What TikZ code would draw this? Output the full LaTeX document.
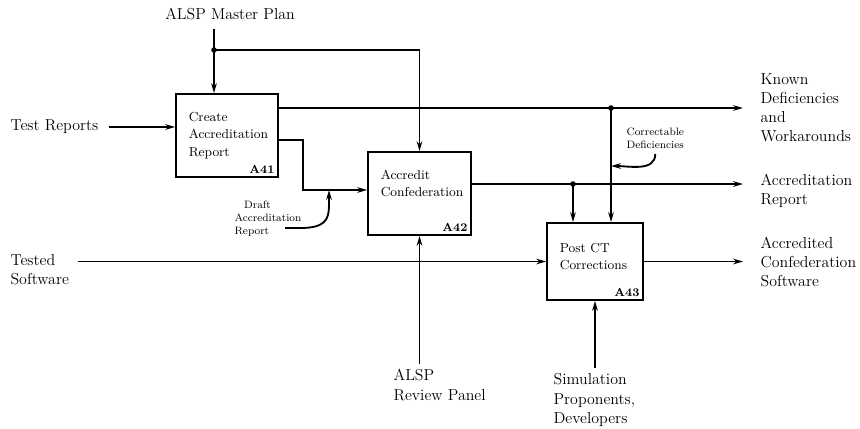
\documentclass[tikz,border=0pt]{standalone}
\usetikzlibrary{positioning,arrows.meta}
\begin{document}
\begin{tikzpicture}[x=0.025cm,y=-0.025cm,line width=1.3pt,
  arr/.style={-{Stealth[length=7pt,width=4pt]}},
  lbl/.style={font=\fontsize{11.3}{13.6}\selectfont,align=left},
  note/.style={font=\fontsize{7.6}{9.2}\selectfont,align=left},
  boxtxt/.style={font=\fontsize{9.3}{12.5}\selectfont,align=left,inner sep=0pt},
  boxnum/.style={font=\fontsize{8.3}{9}\selectfont\bfseries,anchor=south east,inner sep=2.5pt}]
\useasboundingbox (0,0) rectangle (860,428);
\node[draw,minimum width=2.55cm,minimum height=2.075cm] (a41) at (227,135.5) {};
\node[draw,minimum width=2.575cm,minimum height=2.075cm] (a42) at (419.5,193.5) {};
\node[draw,minimum width=2.4cm,minimum height=1.925cm] (a43) at (595,261.5) {};
\node[boxtxt,below right=0.45cm and 0.32cm of a41.north west] (a41t) {Create\\Accreditation\\Report};
\node[boxtxt,below right=0.45cm and 0.32cm of a42.north west] (a42t) {Accredit\\Confederation};
\node[boxtxt,below right=0.5cm and 0.32cm of a43.north west] (a43t) {Post CT\\Corrections};
\node[boxnum] (a41n) at (a41.south east) {A41};
\node[boxnum] (a42n) at (a42.south east) {A42};
\node[boxnum] (a43n) at (a43.south east) {A43};
\node[lbl] (mp) at (230,14) {ALSP Master Plan};
\node[lbl,anchor=west] (tr) at (5,127) {Test Reports};
\node[lbl,anchor=west] (ts) at (5,270) {Tested\\Software};
\node[lbl,anchor=west] (kd) at (755,107.5) {Known\\Deficiencies\\and\\Workarounds};
\node[lbl,anchor=west] (ar) at (755,191) {Accreditation\\Report};
\node[lbl,anchor=west] (acs) at (755,262) {Accredited\\Confederation\\Software};
\node[lbl,anchor=west] (rp) at (388,385) {ALSP\\Review Panel};
\node[lbl,anchor=west] (sp) at (548,400) {Simulation\\Proponents,\\Developers};
\node[note,anchor=west] (dft) at (229,219) {\hspace{0.9em}Draft\\Accreditation\\Report};
\node[note,anchor=west] (cd) at (621,138) {Correctable\\Deficiencies};
\coordinate (mpj) at (214,50);
\coordinate (kdj) at (611,108);
\coordinate (arj) at (573,184);
\coordinate (drb) at (303,140);
\coordinate (drc) at (303,190);
\coordinate (dftend) at (285,228);
\coordinate (drhit) at (329,190);
\coordinate (cdhit) at (611,166);
\draw[arr,shorten <=0.1cm] (mp.south -| mpj) -- (mpj |- a41.north);
\draw[arr] (mpj) -| (a42.north);
\draw[arr,shorten <=0.12cm] (tr.east) -- (tr.east -| a41.west);
\draw (a41.east |- kdj) -- (kdj);
\draw[arr,shorten >=0.3cm] (kdj) -- (kdj -| kd.west);
\draw[arr] (kdj) -- (kdj |- a43.north);
\draw[arr] (a41.east |- drb) -- (drb) -- (drc) -- (drc -| a42.west);
\draw[arr] (dftend) -- (300,228) .. controls (325,228) and (329,220) .. (329,205) -- (drhit);
\draw (a42.east |- arj) -- (arj);
\draw[arr,shorten >=0.3cm] (arj) -- (arj -| ar.west);
\draw[arr] (arj) -- (arj |- a43.north);
\draw[arr] (cd.south) to[out=-90,in=0] (cdhit);
\draw[arr,shorten <=0.08cm] (ts.east |- a43.west) -- (a43.west);
\draw[arr,shorten >=0.3cm] (a43.east) -- (a43.east -| acs.west);
\draw[arr] (rp.north -| a42.south) -- (a42.south);
\draw[arr] (sp.north -| a43.south) -- (a43.south);
\fill (mpj) circle (0.07cm);
\fill (kdj) circle (0.07cm);
\fill (arj) circle (0.07cm);
\end{tikzpicture}
\end{document}
